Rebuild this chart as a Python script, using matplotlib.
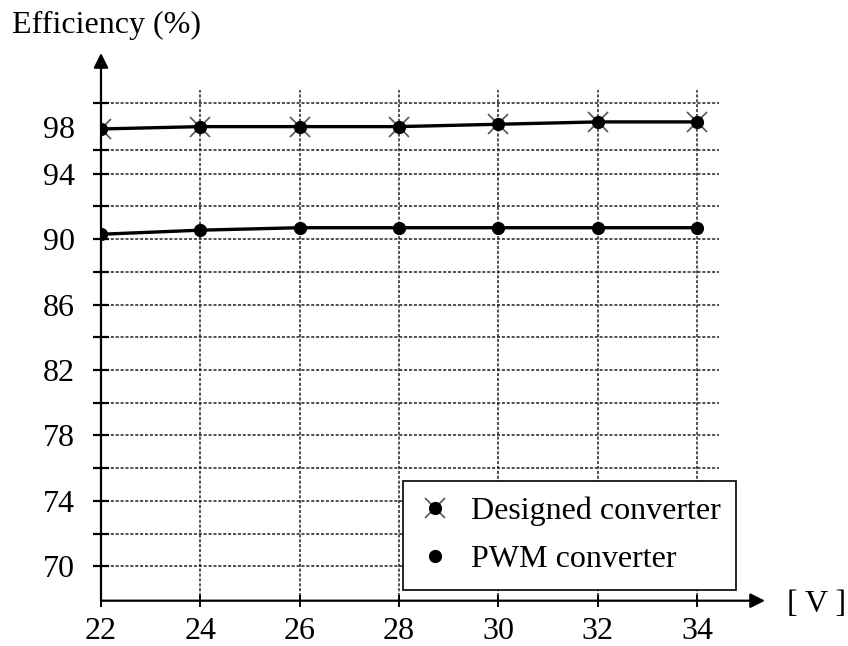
import numpy as np
import matplotlib
matplotlib.use("Agg")
import matplotlib.pyplot as plt
from matplotlib.lines import Line2D

plt.rcParams['font.family'] = ['Liberation Serif', 'DejaVu Serif']
plt.rcParams['font.size'] = 23

# data
voltage = [22, 24, 26, 28, 30, 32, 34]
designed = [97.8, 98.0, 98.0, 98.0, 98.2, 98.4, 98.4]
pwm = [90.3, 90.55, 90.7, 90.7, 90.7, 90.7, 90.7]

y_labels = [70, 74, 78, 82, 86, 90, 94, 98]
y_grid = [70, 72, 74, 76, 78, 80, 82, 84, 86, 88, 90, 92, 94, 96, 100]
x_ticks = [22, 24, 26, 28, 30, 32, 34]

# axis above 94 % is drawn compressed in the original figure
BREAK = 94.0
RATIO = 0.72


def fwd(v):
    v = np.asarray(v, dtype=float)
    return np.where(v <= BREAK, v, BREAK + (v - BREAK) * RATIO)


def inv(u):
    u = np.asarray(u, dtype=float)
    return np.where(u <= BREAK, u, BREAK + (u - BREAK) / RATIO)


fig = plt.figure(figsize=(8.48, 6.46), dpi=100)
ax = fig.add_axes([101 / 848, 45.3 / 646, 664 / 848, 547.7 / 646])
ax.set_yscale('function', functions=(fwd, inv))
ax.set_xlim(22, 35.37)
ax.set_ylim(67.9, 104.25)

for s in ax.spines.values():
    s.set_visible(False)

grid_style = dict(color='#222222', lw=1.1, linestyle=(0, (2, 1.2)), zorder=1)
ax.hlines(y_grid, 22, 34.45, **grid_style)
ax.vlines(x_ticks[1:], 67.9, 101.1, **grid_style)

# axes with arrows
arrow = dict(arrowstyle='-|>', color='black', lw=1.6, mutation_scale=22,
             shrinkA=0, shrinkB=0)
ax.annotate('', xy=(0, 1), xytext=(0, 0), xycoords='axes fraction', arrowprops=arrow)
ax.annotate('', xy=(1, 0), xytext=(0, 0), xycoords='axes fraction', arrowprops=arrow)

# series
ax.plot(voltage, designed, color='black', lw=2.4, zorder=3)
ax.plot(voltage, designed, linestyle='none', marker='x', ms=15, mew=1.2,
        color='#555555', zorder=4)
ax.plot(voltage, designed, linestyle='none', marker='o', ms=8.5, color='black', zorder=5)
ax.plot(voltage, pwm, color='black', lw=2.4, marker='o', ms=8.5, zorder=3)

# ticks
ax.set_xticks(x_ticks)
ax.tick_params(axis='x', direction='inout', length=8, width=1.4, pad=8)
ax.yaxis.remove_overlapping_locs = False
ax.set_yticks(y_labels)
ax.set_yticks(y_grid, minor=True)
ax.yaxis.set_minor_formatter(plt.NullFormatter())
ax.tick_params(axis='y', which='major', length=0, pad=19)
ax.tick_params(axis='y', which='minor', direction='inout', length=11, width=1.6)

# legend
h1 = (Line2D([], [], linestyle='none', marker='x', ms=15, mew=1.2, color='#555555'),
      Line2D([], [], linestyle='none', marker='o', ms=8.5, color='black'))
h2 = Line2D([], [], linestyle='none', marker='o', ms=8.5, color='black')
leg = ax.legend([h1, h2], ['Designed converter', 'PWM converter'],
                loc='upper left', bbox_to_anchor=(403 / 848, 1 - 481 / 646),
                bbox_transform=fig.transFigure, borderaxespad=0,
                handlelength=1.0, handletextpad=0.62, borderpad=0.5,
                labelspacing=0.56, fancybox=False, framealpha=1,
                edgecolor='black', fontsize=23)
leg.get_frame().set_linewidth(1.2)
leg.set_zorder(10)

fig.text(12 / 848, 1 - 33 / 646, 'Efficiency (%)', ha='left', va='baseline', fontsize=23)
fig.text(787 / 848, 1 - 604 / 646, '[ V ]', ha='left', va='center', fontsize=23)

fig.savefig('out.png', dpi=100, facecolor='white')
